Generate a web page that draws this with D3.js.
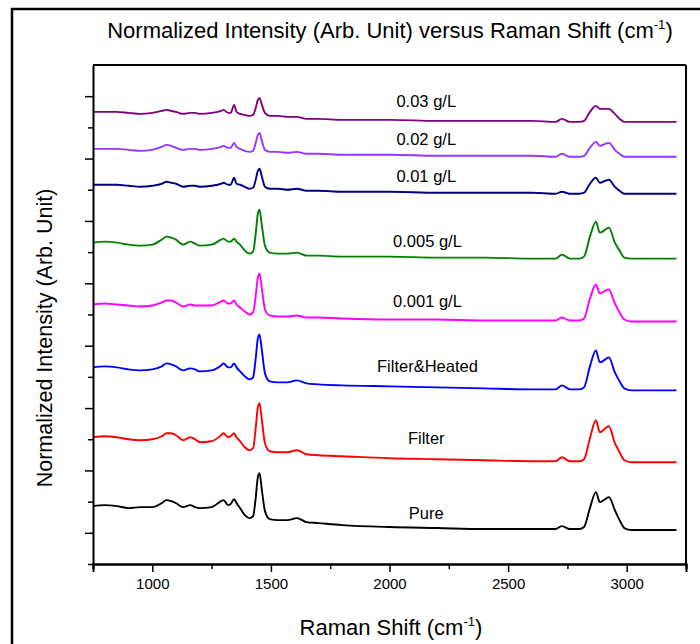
<!DOCTYPE html>
<html><head><meta charset="utf-8">
<script src="https://cdn.jsdelivr.net/npm/d3@7/dist/d3.min.js"></script>
<style>body{margin:0;background:#fff;}svg{display:block;font-family:"Liberation Sans",Arial,sans-serif;}</style>
</head><body><div id="chart"></div>
<script>
// Raman shift grid (cm^-1)
const shift = [750,800,850,900,950,1000,1040,1060,1080,1100,1130,1160,1180,1200,1250,1290,1300,1320,1330,1345,1355,1370,1390,1410,1425,1435,1445,1452,1462,1475,1495,1530,1570,1610,1650,1700,1800,2000,2200,2400,2600,2700,2727,2760,2800,2820,2845,2870,2887,2910,2925,2950,2970,2990,3020,3100,3210];
// Normalized intensity (stacked, arb. unit)
const pure = [11.6,11.8,11.6,11.2,11.4,11.4,12.2,12.8,12.6,12.2,11.4,11.8,11.4,11.2,11.4,12.6,12.8,11.8,12.0,13.0,12.2,11.2,9.8,9.2,9.6,12.8,17.4,18.2,14.8,10.6,9.0,8.8,8.8,9.2,8.4,8.2,7.8,7.4,7.2,7.0,7.0,7.0,7.6,7.0,7.0,7.4,11.2,14.4,12.4,13.0,13.4,10.8,8.8,7.2,6.8,6.8,6.8];
const filter = [25.4,25.6,25.4,25.0,24.8,25.0,25.6,26.2,26.2,25.8,24.8,25.4,25.0,24.4,24.6,25.8,26.2,25.4,25.6,26.2,25.4,24.6,23.4,22.8,23.2,26.8,31.4,32.2,28.8,24.2,22.6,22.4,22.4,22.8,22.0,21.8,21.6,21.2,21.0,20.8,20.6,20.6,21.4,20.6,20.6,21.0,25.2,28.8,26.4,27.2,27.6,24.2,22.4,20.8,20.4,20.4,20.4];
const filterHeated = [39.4,39.6,39.4,39.0,38.8,39.0,39.6,40.2,40.0,39.6,38.8,39.2,39.0,38.6,38.8,39.8,40.2,39.4,39.4,40.2,39.4,38.6,37.6,37.0,37.4,40.8,45.2,46.0,42.8,38.2,36.6,36.4,36.4,36.8,36.2,36.0,35.8,35.6,35.4,35.2,35.0,35.0,35.8,35.0,35.0,35.4,39.6,42.8,40.4,41.0,41.4,38.4,36.6,35.2,34.8,34.8,34.8];
const c0001 = [52.0,52.2,52.0,51.8,51.6,51.8,52.4,52.8,52.8,52.4,51.6,52.0,51.8,51.8,51.8,52.6,52.8,52.2,52.2,52.8,52.0,51.4,50.6,50.0,50.4,53.4,57.4,58.2,55.2,51.0,49.8,49.6,49.6,49.8,49.4,49.4,49.2,49.0,49.0,48.8,48.8,48.8,49.4,48.8,48.8,49.2,53.2,56.0,54.2,54.8,55.0,52.2,50.4,49.0,48.6,48.6,48.6];
const c0005 = [64.4,64.6,64.4,64.0,63.8,64.0,65.0,65.6,65.4,65.0,64.0,64.6,64.2,63.8,64.0,65.0,65.2,64.6,64.6,65.2,64.6,64.0,62.8,62.2,62.6,65.8,70.2,71.0,67.8,63.8,62.4,62.2,62.2,62.4,61.8,61.8,61.6,61.6,61.4,61.4,61.2,61.2,62.0,61.2,61.2,61.6,65.6,68.6,66.4,67.0,67.4,64.4,62.8,61.4,61.2,61.2,61.2];
const c001 = [76.0,76.0,76.0,75.8,75.6,75.8,76.2,76.6,76.4,76.2,75.6,75.8,75.8,75.6,75.8,76.2,76.4,76.0,76.0,77.4,76.2,76.0,75.6,75.2,75.4,76.8,78.8,79.2,77.6,75.6,75.2,75.2,75.0,75.2,74.8,74.8,74.6,74.6,74.4,74.4,74.4,74.2,74.6,74.2,74.2,74.4,76.2,77.4,76.4,76.8,77.0,75.6,74.8,74.2,74.2,74.2,74.2];
const c002 = [83.2,83.2,83.2,83.0,82.8,83.0,83.6,84.0,83.8,83.4,83.0,83.2,83.2,83.0,83.2,83.6,83.8,83.4,83.4,84.4,83.6,83.2,82.8,82.6,82.8,84.2,86.0,86.4,84.8,83.0,82.6,82.6,82.4,82.6,82.2,82.2,82.0,82.0,81.8,81.8,81.8,81.6,82.2,81.6,81.6,81.8,83.4,84.6,83.8,84.2,84.4,83.0,82.2,81.6,81.6,81.6,81.6];
const c003 = [90.6,90.6,90.6,90.4,90.2,90.4,90.8,91.0,90.8,90.6,90.2,90.4,90.4,90.2,90.4,90.8,91.0,90.4,90.4,92.0,90.6,90.2,90.0,89.8,90.0,91.2,93.0,93.4,92.0,90.4,89.8,89.8,89.6,89.6,89.2,89.2,89.0,89.0,88.8,88.8,88.8,88.6,89.2,88.6,88.6,88.8,90.6,91.8,91.2,91.2,91.2,90.2,89.2,88.6,88.6,88.6,88.6];

const seriesNames = ["Pure","Filter","Filter&Heated","0.001 g/L","0.005 g/L","0.01 g/L","0.02 g/L","0.03 g/L"];
const seriesValues = [pure, filter, filterHeated, c0001, c0005, c001, c002, c003];
const seriesColors = ["#000000","#ff0000","#0000ff","#ff00ff","#008000","#000080","#9933ff","#800080"];
// label anchor positions (Raman shift, intensity)
const labelShift = [2155,2155,2160,2160,2160,2155,2155,2155];
const labelValue = [10.2,25.2,39.6,52.8,64.8,77.8,85.2,92.8];

const xMajorTicks = [1000,1500,2000,2500,3000];
const xMinorTicks = [750,1250,1750,2250,2750,3250];
const xDomain = [750,3250];
const yDomain = [0,100];
const yTicks = d3.range(0,100,6.25);

const W=700,H=644;
const m={left:93,right:14,top:65,bottom:80};
const svg=d3.select("#chart").append("svg").attr("width",W).attr("height",H);

// outer frame
svg.append("rect").attr("x",12).attr("y",9).attr("width",W+20).attr("height",H+20)
  .attr("fill","none").attr("stroke","#000").attr("stroke-width",2.5);

const x=d3.scaleLinear().domain(xDomain).range([m.left,W-m.right]);
const y=d3.scaleLinear().domain(yDomain).range([H-m.bottom,m.top]);

const line=d3.line().x((d,i)=>x(shift[i])).y(d=>y(d)).curve(d3.curveMonotoneX);
svg.append("g").selectAll("path").data(seriesValues).join("path")
  .attr("d",d=>line(d)).attr("fill","none")
  .attr("stroke",(d,i)=>seriesColors[i]).attr("stroke-width",1.9).attr("stroke-linejoin","round");

// labels
svg.append("g").selectAll("text").data(seriesNames).join("text")
  .attr("x",(d,i)=>x(labelShift[i])).attr("y",(d,i)=>y(labelValue[i]))
  .attr("text-anchor","middle").attr("dominant-baseline","central")
  .attr("font-size",16.5).attr("fill","#000").text(d=>d);

// axes
const gx=svg.append("g").attr("transform",`translate(0,${H-m.bottom})`);
gx.call(d3.axisBottom(x).tickValues(xMajorTicks).tickSize(8).tickPadding(6).tickFormat(d3.format("d")));
const gxm=svg.append("g").attr("transform",`translate(0,${H-m.bottom})`);
gxm.call(d3.axisBottom(x).tickValues(xMinorTicks).tickSize(5).tickFormat(""));
const gy=svg.append("g").attr("transform",`translate(${m.left},0)`);
gy.call(d3.axisLeft(y).tickValues(yTicks).tickSize(0).tickFormat(""));
gy.selectAll(".tick").append("line").attr("x2",(d,i)=>i%2===1?-8:-5).attr("stroke","#000").attr("stroke-width",1.5);
[gx,gxm,gy].forEach(g=>{
  g.selectAll(".domain").attr("stroke","#000").attr("stroke-width",2);
  g.selectAll(".tick line").attr("stroke","#000").attr("stroke-width",1.5);
  g.selectAll(".tick text").attr("font-size",15).attr("fill","#000").attr("font-family","Liberation Sans, Arial, sans-serif");
});
// top and right box lines
svg.append("line").attr("x1",m.left).attr("x2",W-m.right).attr("y1",m.top).attr("y2",m.top).attr("stroke","#000").attr("stroke-width",2);
svg.append("line").attr("x1",W-m.right).attr("x2",W-m.right).attr("y1",m.top).attr("y2",H-m.bottom).attr("stroke","#000").attr("stroke-width",2);

function supText(sel, main, tail){
  sel.append("tspan").text(main);
  sel.append("tspan").attr("font-size","0.6em").attr("dy","-0.7em").text("-1");
  sel.append("tspan").attr("dy","0.42em").text(tail);
}
// title
const t=svg.append("text").attr("x",390).attr("y",38).attr("text-anchor","middle").attr("font-size",22).attr("fill","#000");
supText(t,"Normalized Intensity (Arb. Unit) versus Raman Shift (cm",")");
// x title
const xt=svg.append("text").attr("x",391).attr("y",635).attr("text-anchor","middle").attr("font-size",22).attr("fill","#000");
supText(xt,"Raman Shift (cm",")");
// y title
svg.append("text").attr("transform","translate(52,338) rotate(-90)").attr("text-anchor","middle")
  .attr("font-size",21.5).attr("fill","#000").text("Normalized Intensity (Arb. Unit)");
</script></body></html>
